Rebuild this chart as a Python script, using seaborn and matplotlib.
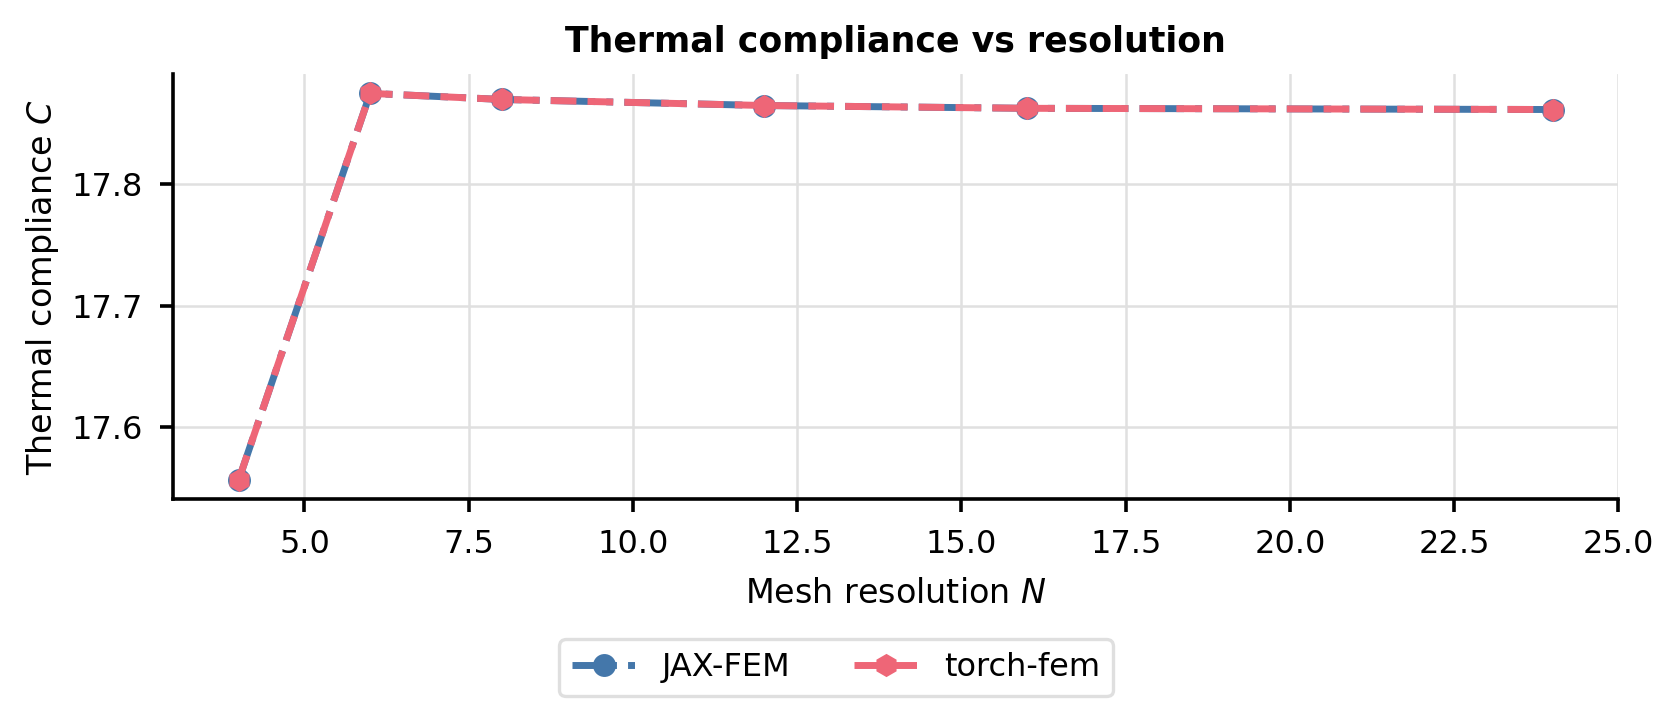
import matplotlib
matplotlib.use("Agg")
import matplotlib.pyplot as plt
import numpy as np
import pandas as pd
import seaborn as sns

# Mesh resolutions and thermal compliance
resolution = [4, 6, 8, 12, 16, 24]
jax_fem = [17.5568, 17.8750, 17.8700, 17.8650, 17.8627, 17.8617]
torch_fem = [17.5568, 17.8750, 17.8700, 17.8650, 17.8627, 17.8617]

BLUE = "#4477AA"
RED = "#EE6677"


def main() -> None:
    sns.set_theme(style="ticks")
    plt.rcParams["font.family"] = ["DejaVu Sans"]
    for key in ("text.color", "axes.labelcolor", "xtick.color", "ytick.color"):
        plt.rcParams[key] = "black"

    fig, ax = plt.subplots(figsize=(8.36, 3.56), dpi=200)
    fig.subplots_adjust(left=0.1035, right=0.968, top=0.896, bottom=0.299)

    sns.lineplot(x=resolution, y=jax_fem, ax=ax, color=BLUE, marker="o",
                 linestyle="-.", linewidth=2.5, markersize=7.5, label="JAX-FEM",
                 markeredgecolor=BLUE)
    sns.lineplot(x=resolution, y=torch_fem, ax=ax, color=RED, marker="h",
                 linestyle="--", linewidth=2.5, markersize=7.5, label="torch-fem",
                 markeredgecolor=RED)

    ax.grid(True, color="#e0e0e0", linewidth=0.9)
    ax.set_axisbelow(True)
    sns.despine(ax=ax)
    for side in ("left", "bottom"):
        ax.spines[side].set_linewidth(1.3)
        ax.spines[side].set_color("black")
    ax.tick_params(axis="both", labelsize=11.5, width=1.3, length=4.8, pad=6,
                   color="black")

    ax.set_title("Thermal compliance vs resolution", fontsize=12.5, fontweight="bold",
                 pad=8, color="black")
    ax.set_xlabel("Mesh resolution $N$", fontsize=12, labelpad=6)
    ax.set_ylabel("Thermal compliance $C$", fontsize=12, labelpad=4)

    handles, labels = ax.get_legend_handles_labels()
    ax.get_legend().remove()
    leg = fig.legend(handles, labels, loc="lower center", bbox_to_anchor=(0.5, 0.0),
                     ncol=2, frameon=True, fontsize=11.5, edgecolor="#d8d8d8",
                     fancybox=True, columnspacing=2.0)
    leg.get_frame().set_linewidth(1.2)

    fig.savefig("out.png", dpi=200)
    plt.close(fig)


if __name__ == "__main__":
    main()
